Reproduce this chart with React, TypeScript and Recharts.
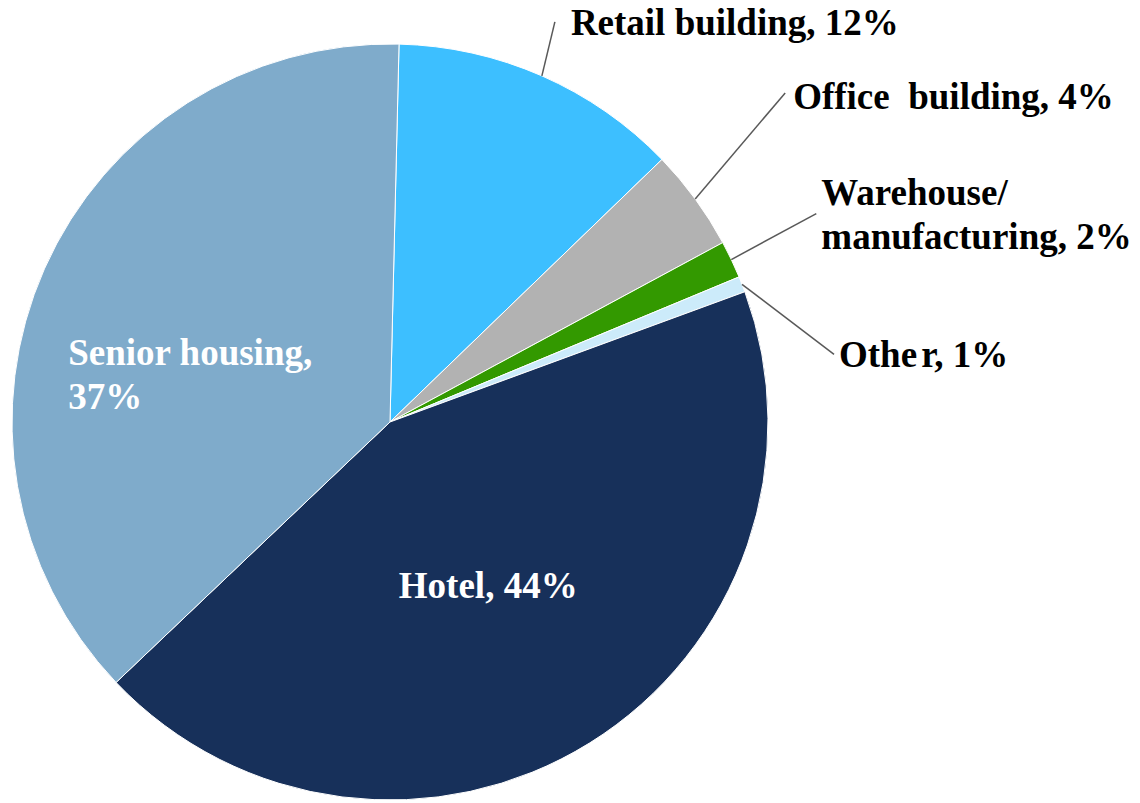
import React from 'react';
import { PieChart, Pie, Cell } from 'recharts';

const categories = ['Retail building', 'Office building', 'Warehouse/manufacturing', 'Other', 'Hotel', 'Senior housing'];
const shares = [12.4, 4.35, 1.6, 0.67, 43.5, 37.48];
const percentLabels = ['12%', '4%', '2%', '1%', '44%', '37%'];
const labelText: string[][] = [
  ['Retail building, 12%'],
  ['Office  building, 4%'],
  ['Warehouse/', 'manufacturing, 2%'],
  ['Other, 1%'],
  ['Hotel, 44%'],
  ['Senior housing,', '37%'],
];
const colors = ['#3DBFFF', '#B2B2B2', '#339900', '#CCEBFA', '#17305A', '#7FABCB'];

const data = categories.map((name, i) => ({ name, value: shares[i], pct: percentLabels[i] }));

type LabelCfg = {
  inside: boolean;
  r?: number;
  dx?: number;
  dy?: number;
  anchor?: 'start' | 'middle' | 'end';
  lx?: number;
  ly?: number;
  tx?: number;
  ty?: number;
  gapAt?: number;
  gap?: number;
};

const labelLayout: LabelCfg[] = [
  { inside: false, lx: 13, ly: -54, tx: 16, ty: 13 },
  { inside: false, lx: 90, ly: -106, tx: 8, ty: 16 },
  { inside: false, lx: 85, ly: -46, tx: 5, ty: -9 },
  { inside: false, lx: 92, ly: 70, tx: 5, ty: 13, gapAt: 4, gap: 4 },
  { inside: true, r: 0.5, dx: -1.5, dy: 15, anchor: 'middle' },
  { inside: true, r: 0.5, dx: -149, dy: 20, anchor: 'start' },
];

const FONT = '"Liberation Serif", "Times New Roman", serif';
const LINE_H = 44;

const renderLines = (lines: string[], x: number, cfg: LabelCfg) =>
  lines.map((l, i) => {
    if (cfg.gapAt !== undefined && i === 0) {
      return (
        <React.Fragment key={i}>
          <tspan x={x} dy={0}>{l.slice(0, cfg.gapAt)}</tspan>
          <tspan dx={cfg.gap}>{l.slice(cfg.gapAt)}</tspan>
        </React.Fragment>
      );
    }
    return (
      <tspan key={i} x={x} dy={i === 0 ? 0 : LINE_H}>
        {l}
      </tspan>
    );
  });

const renderLabel = (props: any) => {
  const { cx, cy, midAngle, outerRadius, index } = props;
  const cfg = labelLayout[index];
  const lines = labelText[index];
  const RAD = Math.PI / 180;
  const cos = Math.cos(-midAngle * RAD);
  const sin = Math.sin(-midAngle * RAD);
  if (cfg.inside) {
    const r = outerRadius * (cfg.r ?? 0.5);
    const x = cx + r * cos + (cfg.dx ?? 0);
    const y = cy + r * sin + (cfg.dy ?? 0);
    return (
      <text
        key={`lbl-${index}`}
        x={x}
        y={y}
        fill="#FFFFFF"
        textAnchor={cfg.anchor}
        fontFamily={FONT}
        fontWeight="bold"
        fontSize={37}
        style={{ whiteSpace: 'pre' }}
      >
        {renderLines(lines, x, cfg)}
      </text>
    );
  }
  const sx = cx + outerRadius * cos;
  const sy = cy + outerRadius * sin;
  const ex = sx + (cfg.lx ?? 0);
  const ey = sy + (cfg.ly ?? 0);
  const tx = ex + (cfg.tx ?? 0);
  const ty = ey + (cfg.ty ?? 0);
  return (
    <g key={`lbl-${index}`}>
      <line x1={sx} y1={sy} x2={ex} y2={ey} stroke="#595959" strokeWidth={1.5} />
      <text
        x={tx}
        y={ty}
        fill="#000000"
        textAnchor="start"
        fontFamily={FONT}
        fontWeight="bold"
        fontSize={37}
        style={{ whiteSpace: 'pre' }}
      >
        {renderLines(lines, tx, cfg)}
      </text>
    </g>
  );
};

export default function App() {
  return (
    <div style={{ position: 'fixed', left: 0, top: 0, width: 1140, height: 803, background: '#FFFFFF' }}>
      <PieChart width={1140} height={803} margin={{ top: 0, right: 0, bottom: 0, left: 0 }}>
        <Pie
          data={data}
          dataKey="value"
          nameKey="name"
          cx={390}
          cy={422}
          outerRadius={378}
          innerRadius={0}
          startAngle={88.63}
          endAngle={-271.37}
          stroke="#FFFFFF"
          strokeWidth={1}
          isAnimationActive={false}
          label={renderLabel}
          labelLine={false}
        >
          {data.map((d, i) => (
            <Cell key={d.name} fill={colors[i]} />
          ))}
        </Pie>
      </PieChart>
    </div>
  );
}
